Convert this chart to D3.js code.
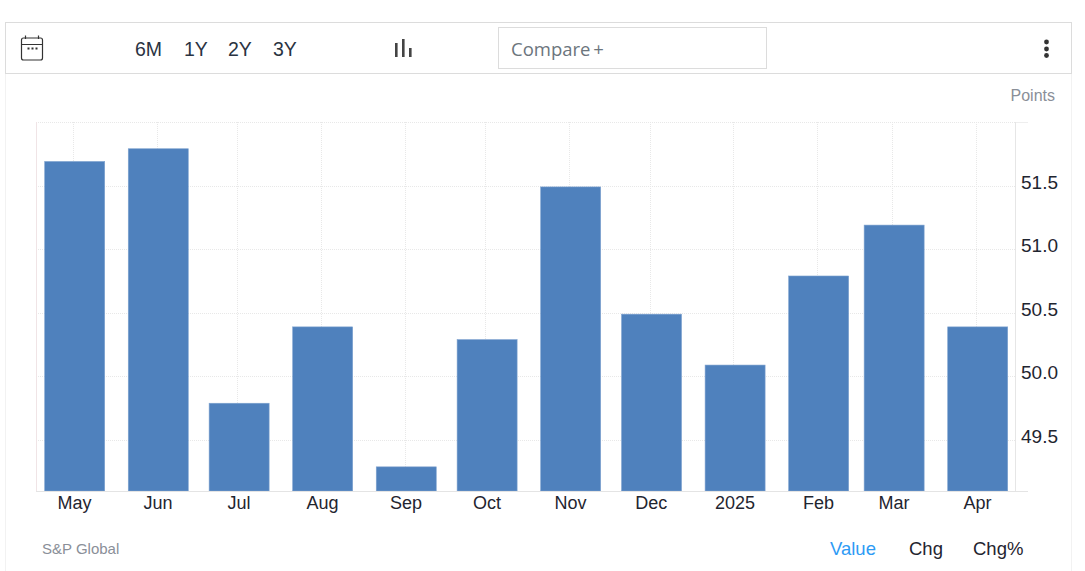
<!DOCTYPE html>
<html>
<head>
<meta charset="utf-8">
<script src="https://cdn.jsdelivr.net/npm/d3@7"></script>
<style>
html,body{margin:0;padding:0;background:#fff;overflow:hidden}
svg{display:block}
text{font-family:"Liberation Sans",Arial,sans-serif}
</style>
</head>
<body>
<svg id="c" width="1085" height="571"></svg>
<script>
const months = ["2024-05-01","2024-06-01","2024-07-01","2024-08-01","2024-09-01","2024-10-01","2024-11-01","2024-12-01","2025-01-01","2025-02-01","2025-03-01","2025-04-01"];
const monthLabels = ["May","Jun","Jul","Aug","Sep","Oct","Nov","Dec","2025","Feb","Mar","Apr"];
const values = [51.7,51.8,49.8,50.4,49.3,50.3,51.5,50.5,50.1,50.8,51.2,50.4];
const yTicks = [49.5,50,50.5,51,51.5];
const ranges = ["6M","1Y","2Y","3Y"];
const modes = ["Value","Chg","Chg%"];

const svg = d3.select("#c");
const dates = months.map(d => new Date(d + "T00:00:00Z"));
const x = d3.scaleUtc().domain([dates[0], dates[dates.length-1]]).range([75,978]);
const y = d3.scaleLinear().domain([49.1,52.0]).range([490.5,122]);
const yBar = d3.scaleLinear().domain([49.1,52.0]).range([492.3,123.3]);
const barW = 60, L = 36, R = 1016, T = 122, B = 491;

// panel frame
svg.append("path").attr("d","M5.5 73V571M1071.5 73V571").attr("stroke","#f2f2f2").attr("fill","none");
svg.append("rect").attr("x",5.5).attr("y",22.5).attr("width",1066).attr("height",51)
  .attr("fill","#fff").attr("stroke","#dcdcdc");

// toolbar: calendar icon
const cal = svg.append("g").attr("fill","none").attr("stroke","#333").attr("stroke-width",1.2);
cal.append("rect").attr("x",21.5).attr("y",38).attr("width",21).attr("height",22).attr("rx",2);
cal.append("path").attr("d","M21.5 44.5H42.5M25.5 35.5V39M38.5 35.5V39");
svg.selectAll(".dot").data([28,32,36]).join("rect").attr("x",d=>d-.5).attr("y",47.5)
  .attr("width",2).attr("height",2).attr("fill","#333");

const rangeX = [135,184,228,273];
svg.selectAll(".rng").data(ranges).join("text").attr("class","rng")
  .attr("x",(d,i)=>rangeX[i]).attr("y",56).attr("font-size",19.5).attr("fill","#2a3342").text(d=>d);

// bar-chart icon
svg.selectAll(".ico").data([[395,43,57],[402,39,57],[409,48,57]]).join("rect").attr("class","ico")
  .attr("x",d=>d[0]).attr("y",d=>d[1]).attr("width",2.6).attr("height",d=>d[2]-d[1]).attr("fill","#444");

// compare box
svg.append("rect").attr("x",498.5).attr("y",27.5).attr("width",268).attr("height",41)
  .attr("fill","#fff").attr("stroke","#dcdcdc");
svg.append("text").attr("x",511).attr("y",56).attr("font-size",18.5)
  .style("font-family","'Open Sans',sans-serif").attr("fill","#6c757d").attr("word-spacing",-2).text("Compare +");

// menu dots
svg.selectAll(".m").data([42,49,55.5]).join("circle").attr("class","m")
  .attr("cx",1046.5).attr("cy",d=>d).attr("r",2.4).attr("fill","#333");

svg.append("text").attr("x",1055).attr("y",101).attr("text-anchor","end").attr("font-size",16)
  .attr("fill","#8a8f98").text("Points");

// grid
const grid = svg.append("g").attr("stroke","#e8e8e8").attr("stroke-dasharray","1 1").attr("fill","none");
grid.selectAll(".gy").data(yTicks).join("line")
  .attr("x1",L).attr("x2",R).attr("y1",d=>Math.round(y(d))+.5).attr("y2",d=>Math.round(y(d))+.5);
grid.append("line").attr("x1",L).attr("x2",R).attr("y1",T+.5).attr("y2",T+.5);
grid.selectAll(".gx").data(dates).join("line")
  .attr("x1",d=>Math.round(x(d))-1.5).attr("x2",d=>Math.round(x(d))-1.5).attr("y1",T).attr("y2",B);

// axis lines
svg.append("path").attr("d",`M${L+.5} ${T}V${B}`).attr("stroke","#f0e4e6").attr("fill","none");
svg.append("path").attr("d",`M${R-.5} ${T}V${B}`).attr("stroke","#e6e6e6").attr("fill","none");
svg.append("path").attr("d",`M${R} ${T+.5}H1028`).attr("stroke","#eeeeee").attr("fill","none");

// bars
svg.selectAll(".bar").data(values).join("rect").attr("class","bar")
  .attr("x",(d,i)=>x(dates[i])-barW/2-.3).attr("width",barW)
  .attr("y",d=>yBar(d)).attr("height",d=>B-yBar(d))
  .attr("fill","#4f81bd").attr("stroke","#7ea2cf").attr("stroke-width",.6);

svg.append("path").attr("d",`M${L} ${B+.5}H1028`).attr("stroke","#e4e4e4").attr("fill","none");

// axis labels
svg.selectAll(".xl").data(monthLabels).join("text").attr("class","xl")
  .attr("x",(d,i)=>x(dates[i])-.5).attr("y",509).attr("text-anchor","middle")
  .attr("font-size",18).attr("fill","#1f2530").text(d=>d);
svg.selectAll(".yl").data(yTicks).join("text").attr("class","yl")
  .attr("x",1021).attr("y",d=>y(d)+3).attr("font-size",19).attr("fill","#1f2530")
  .text(d=>d3.format(".1f")(d));

// footer
svg.append("text").attr("x",42).attr("y",554).attr("font-size",15).attr("fill","#8a8f98").text("S&P Global");
const modeX = [830,909,973];
svg.selectAll(".md").data(modes).join("text").attr("class","md")
  .attr("x",(d,i)=>modeX[i]).attr("y",555).attr("font-size",18.5)
  .attr("fill",(d,i)=>i===0?"#2e9bf5":"#1f2530").text(d=>d);
</script>
</body>
</html>
